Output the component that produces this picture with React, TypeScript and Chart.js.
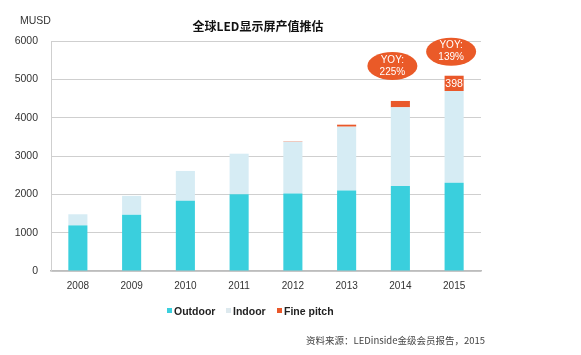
import React, { useEffect, useRef } from "react";
import { Chart, registerables } from "chart.js";

Chart.register(...registerables);

const categories = ["2008", "2009", "2010", "2011", "2012", "2013", "2014", "2015"];
const outdoor = [1190, 1470, 1830, 2000, 2020, 2100, 2220, 2300];
const indoor = [290, 490, 780, 1060, 1350, 1666, 2050, 2396];
const finePitch = [0, 0, 0, 0, 10, 51, 166, 398];
const yoyLabels = [null, null, null, null, null, null, "225%", "139%"];
const yTicks = [0, 1000, 2000, 3000, 4000, 5000, 6000];

const COL_OUT = "#3ACFDD";
const COL_IN = "#D6ECF4";
const COL_FINE = "#E9582A";
const FONT = "'Liberation Sans', Arial, sans-serif";
const CJK = "'Noto Sans CJK SC', 'Liberation Sans', sans-serif";

const overlay = {
  id: "overlay",
  afterDatasetsDraw(chart: any) {
    const ctx = chart.ctx;
    const fineMeta = chart.getDatasetMeta(2);
    const last = finePitch.length - 1;
    const el = fineMeta.data[last];
    if (el) {
      ctx.save();
      ctx.fillStyle = "#fff";
      ctx.font = `10.5px ${FONT}`;
      ctx.textAlign = "center";
      ctx.textBaseline = "middle";
      ctx.fillText(String(finePitch[last]), el.x, (el.y + el.base) / 2 + 0.5);
      ctx.restore();
    }
    const offsets: Record<number, [number, number]> = { 6: [-8, -35], 7: [-3, -24] };
    yoyLabels.forEach((lab, i) => {
      if (!lab) return;
      const b = fineMeta.data[i];
      const [dx, dy] = offsets[i] || [0, -30];
      const cx = b.x + dx;
      const cy = b.y + dy;
      ctx.save();
      ctx.fillStyle = "#EA5A28";
      ctx.beginPath();
      ctx.ellipse(cx, cy, 25, 14, 0, 0, Math.PI * 2);
      ctx.fill();
      ctx.fillStyle = "#fff";
      ctx.font = `10px ${FONT}`;
      ctx.textAlign = "center";
      ctx.textBaseline = "middle";
      ctx.fillText("YOY:", cx, cy - 6);
      ctx.fillText(lab, cx, cy + 6);
      ctx.restore();
    });
  },
  afterDraw(chart: any) {
    const ctx = chart.ctx;
    ctx.save();
    ctx.fillStyle = "#111";
    ctx.font = `bold 12px ${CJK}`;
    ctx.textAlign = "center";
    ctx.textBaseline = "middle";
    ctx.fillText("全球LED显示屏产值推估", 258, 26);
    ctx.fillStyle = "#333";
    ctx.font = `10.5px ${FONT}`;
    ctx.textAlign = "left";
    ctx.fillText("MUSD", 20, 21);
    const items: [string, string, number][] = [
      ["Outdoor", COL_OUT, 167],
      ["Indoor", "#DDE9EE", 226],
      ["Fine pitch", COL_FINE, 277],
    ];
    items.forEach(([label, color, x]) => {
      ctx.fillStyle = color;
      ctx.fillRect(x, 308, 5, 5);
      ctx.fillStyle = "#222";
      ctx.font = `bold 10.5px ${FONT}`;
      ctx.textAlign = "left";
      ctx.textBaseline = "middle";
      ctx.fillText(label, x + 7, 312);
    });
    ctx.fillStyle = "#444";
    ctx.font = `9.5px ${CJK}`;
    ctx.textAlign = "left";
    ctx.textBaseline = "middle";
    ctx.fillText("资料来源：LEDinside金级会员报告，2015", 306, 340);
    ctx.restore();
  },
};

export default function App() {
  const ref = useRef<HTMLCanvasElement>(null);
  useEffect(() => {
    if (!ref.current) return;
    const chart = new Chart(ref.current, {
      type: "bar",
      data: {
        labels: categories,
        datasets: [
          { label: "Outdoor", data: outdoor, backgroundColor: COL_OUT },
          { label: "Indoor", data: indoor, backgroundColor: COL_IN },
          { label: "Fine pitch", data: finePitch, backgroundColor: COL_FINE },
        ],
      },
      options: {
        responsive: false,
        animation: false,
        layout: { padding: { left: 0, right: 100, top: 41, bottom: 0 } },
        datasets: { bar: { categoryPercentage: 1, barPercentage: 0.355 } } as any,
        plugins: { legend: { display: false }, tooltip: { enabled: false }, title: { display: false } },
        scales: {
          x: {
            stacked: true,
            grid: { display: false, drawTicks: false },
            border: { display: true, color: "#BDBDBD", width: 1.5 },
            ticks: { color: "#333", font: { family: FONT, size: 10 }, padding: 9 },
            afterFit: (s: any) => { s.height = 84; },
          },
          y: {
            stacked: true,
            min: 0,
            max: 6000,
            afterBuildTicks: (s: any) => { s.ticks = yTicks.map((v) => ({ value: v })); },
            grid: { color: "#CFCFCF", drawTicks: false, lineWidth: 1 },
            border: { display: true, color: "#CFCFCF" },
            ticks: {
              color: "#333",
              font: { family: FONT, size: 10.5 },
              padding: 13,
              callback: (v: any) => String(v),
            },
            afterFit: (s: any) => { s.width = 51; },
          },
        },
      },
      plugins: [overlay],
    });
    return () => chart.destroy();
  }, []);
  return (
    <div style={{ position: "fixed", left: 0, top: 0, width: 581, height: 355, background: "#fff" }}>
      <canvas ref={ref} width={581} height={355} style={{ display: "block" }} />
    </div>
  );
}
